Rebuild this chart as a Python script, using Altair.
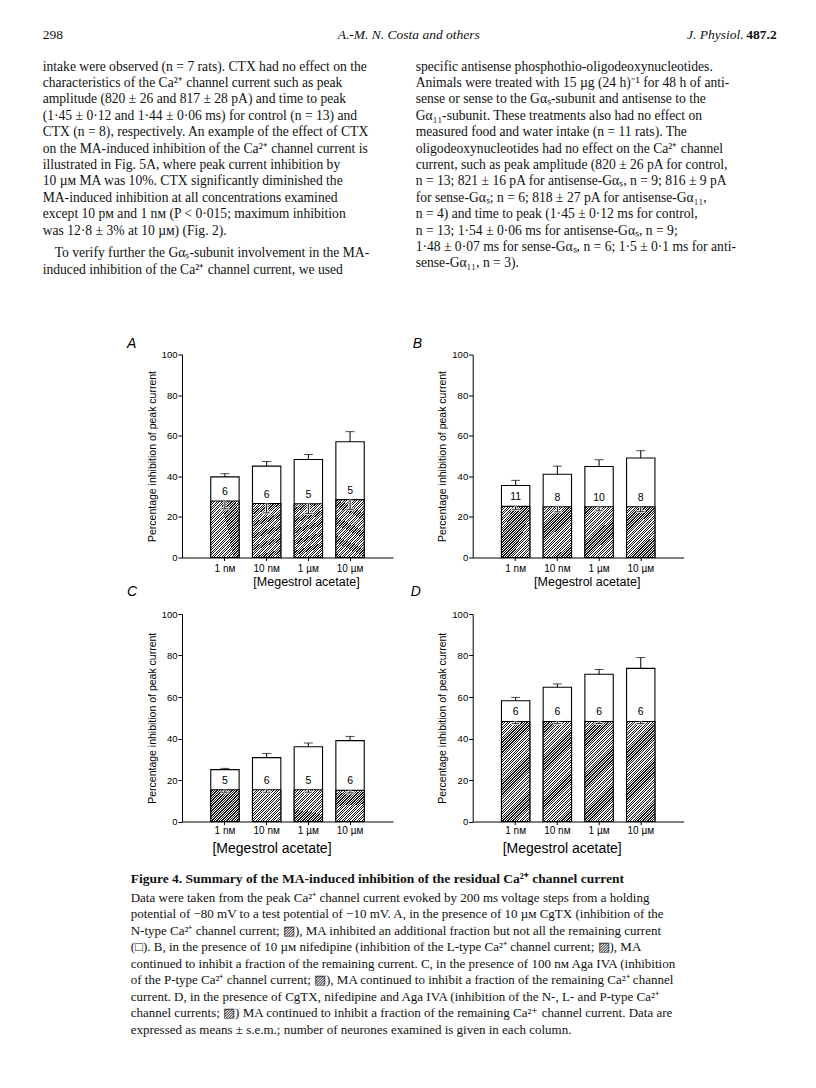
import math
import altair as alt
import pandas as pd

# ---------------- data ----------------
CONC = ["1 nᴍ", "10 nᴍ", "1 µᴍ", "10 µᴍ"]
Y_TICKS = [0, 20, 40, 60, 80, 100]

A_TOTAL = [39.7, 45.0, 48.3, 57.0]
A_TOTAL_SEM = [1.6, 2.3, 2.5, 5.0]
A_BASE = [27.8, 26.6, 26.5, 28.5]
A_BASE_SEM = [3.8, 4.6, 4.8, 4.8]
A_N = [6, 6, 5, 5]

B_TOTAL = [35.5, 41.0, 44.8, 49.0]
B_TOTAL_SEM = [2.5, 4.0, 3.3, 3.6]
B_BASE = [25.2, 25.0, 25.0, 25.0]
B_BASE_SEM = [1.5, 2.5, 2.0, 2.3]
B_N = [11, 8, 10, 8]

C_TOTAL = [25.0, 30.8, 36.0, 39.0]
C_TOTAL_SEM = [0.6, 2.0, 1.8, 2.0]
C_BASE = [15.3, 15.3, 15.3, 15.0]
C_BASE_SEM = [1.2, 1.2, 1.2, 1.2]
C_N = [5, 6, 5, 6]

D_TOTAL = [58.2, 64.7, 71.0, 73.8]
D_TOTAL_SEM = [1.6, 1.6, 2.2, 5.2]
D_BASE = [48.2, 48.2, 48.2, 48.2]
D_BASE_SEM = [1.0, 1.0, 1.0, 1.0]
D_N = [6, 6, 6, 6]

HEADER_LEFT = "298"
HEADER_CENTER = "A.-M. N. Costa and others"
HEADER_JOURNAL = "J. Physiol."
HEADER_VOLUME = "487.2"

LEFT_COL = [
    "intake were observed (n = 7 rats). CTX had no effect on the",
    "characteristics of the Ca²⁺ channel current such as peak",
    "amplitude (820 ± 26 and 817 ± 28 pA) and time to peak",
    "(1·45 ± 0·12 and 1·44 ± 0·06 ms) for control (n = 13) and",
    "CTX (n = 8), respectively. An example of the effect of CTX",
    "on the MA-induced inhibition of the Ca²⁺ channel current is",
    "illustrated in Fig. 5A, where peak current inhibition by",
    "10 µᴍ MA was 10%. CTX significantly diminished the",
    "MA-induced inhibition at all concentrations examined",
    "except 10 pᴍ and 1 nᴍ (P < 0·015; maximum inhibition",
    "was 12·8 ± 3% at 10 µᴍ) (Fig. 2).",
    "To verify further the Gαₛ-subunit involvement in the MA-",
    "induced inhibition of the Ca²⁺ channel current, we used",
]
RIGHT_COL = [
    "specific antisense phosphothio-oligodeoxynucleotides.",
    "Animals were treated with 15 µg (24 h)⁻¹ for 48 h of anti-",
    "sense or sense to the Gαₛ-subunit and antisense to the",
    "Gα₁₁-subunit. These treatments also had no effect on",
    "measured food and water intake (n = 11 rats). The",
    "oligodeoxynucleotides had no effect on the Ca²⁺ channel",
    "current, such as peak amplitude (820 ± 26 pA for control,",
    "n = 13; 821 ± 16 pA for antisense-Gαₛ, n = 9; 816 ± 9 pA",
    "for sense-Gαₛ; n = 6; 818 ± 27 pA for antisense-Gα₁₁,",
    "n = 4) and time to peak (1·45 ± 0·12 ms for control,",
    "n = 13; 1·54 ± 0·06 ms for antisense-Gαₛ, n = 9;",
    "1·48 ± 0·07 ms for sense-Gαₛ, n = 6; 1·5 ± 0·1 ms for anti-",
    "sense-Gα₁₁, n = 3).",
]
CAPTION_TITLE = "Figure 4. Summary of the MA-induced inhibition of the residual Ca²⁺ channel current"
CAPTION_LINES = [
    "Data were taken from the peak Ca²⁺ channel current evoked by 200 ms voltage steps from a holding",
    "potential of −80 mV to a test potential of −10 mV. A, in the presence of 10 µᴍ CgTX (inhibition of the",
    "N-type Ca²⁺ channel current; ▨), MA inhibited an additional fraction but not all the remaining current",
    "(□). B, in the presence of 10 µᴍ nifedipine (inhibition of the L-type Ca²⁺ channel current; ▨), MA",
    "continued to inhibit a fraction of the remaining current. C, in the presence of 100 nᴍ Aga IVA (inhibition",
    "of the P-type Ca²⁺ channel current; ▨), MA continued to inhibit a fraction of the remaining Ca²⁺ channel",
    "current. D, in the presence of CgTX, nifedipine and Aga IVA (inhibition of the N-, L- and P-type Ca²⁺",
    "channel currents; ▨) MA continued to inhibit a fraction of the remaining Ca²⁺ channel current. Data are",
    "expressed as means ± s.e.m.; number of neurones examined is given in each column.",
]

# ---------------- styling / layout ----------------
SANS = "Liberation Sans, Arial, Helvetica, sans-serif"
SERIF = "Liberation Serif, Times New Roman, serif"
PANEL_W = 211
ROW1_H = 203
ROW2_H = 207.5
ROW_GAP = 56.5
COL_GAP = 79.7
BAR_W = PANEL_W / (4 - 0.32 + 2 * 0.69) * (1 - 0.32)


def hatch(w, h, period=1.75, frac=0.52, dark="#1a1a1a"):
    k = (w + h) / (w * w + h * h)
    n = max(1, int(round((w + h) / (math.sqrt(2) * period))))
    stops = []
    for i in range(n):
        a, m, b = i / n, (i + frac) / n, (i + 1) / n
        stops += [
            alt.GradientStop(offset=a, color="white"),
            alt.GradientStop(offset=m, color="white"),
            alt.GradientStop(offset=m, color=dark),
            alt.GradientStop(offset=b, color=dark),
        ]
    return alt.LinearGradient(gradient="linear", stops=stops, x1=0, y1=0, x2=k * w, y2=k * h)


def panel(letter, total, total_sem, base, base_sem, n, height, title_x,
          xtitle_size, xlabel_pad, xtitle_pad, letter_dx, letter_dy):
    df = pd.DataFrame({
        "conc": CONC,
        "total": total,
        "top": [t + e for t, e in zip(total, total_sem)],
        "base": base,
        "low": [b - e for b, e in zip(base, base_sem)],
        "n": [str(v) for v in n],
    })
    xaxis = alt.Axis(
        title="[Megestrol acetate]", labelAngle=0, grid=False,
        domainColor="black", domainWidth=1, tickColor="black", tickSize=3, tickWidth=1,
        labelFont=SANS, labelFontSize=10, labelColor="black", labelPadding=xlabel_pad,
        titleFont=SANS, titleFontSize=xtitle_size, titleFontWeight="normal",
        titleColor="black", titlePadding=xtitle_pad, titleX=title_x, titleAlign="center",
    )
    yaxis = alt.Axis(
        title="Percentage inhibition of peak current", values=Y_TICKS, grid=False,
        domainColor="black", domainWidth=1, tickColor="black", tickSize=4, tickWidth=1,
        labelFont=SANS, labelFontSize=9.5, labelColor="black", labelPadding=1,
        titleFont=SANS, titleFontSize=10.5, titleFontWeight="normal",
        titleColor="black", titlePadding=4,
    )
    ysc = alt.Scale(domain=[0, 100], nice=False)
    xenc = alt.X("conc:N", sort=CONC, axis=xaxis,
                 scale=alt.Scale(paddingInner=0.32, paddingOuter=0.69))

    def Y(field):
        return alt.Y(f"{field}:Q", scale=ysc, axis=yaxis)

    b = alt.Chart(df).encode(x=xenc)
    h_px = sum(base) / len(base) * height / 100.0
    white = b.mark_bar(fill="white", stroke="black", strokeWidth=1.1).encode(y=Y("total"))
    hatched = b.mark_bar(fill=hatch(BAR_W, h_px), stroke="black", strokeWidth=1.1).encode(y=Y("base"))
    halo = b.mark_rule(color="white", strokeWidth=3).encode(y=Y("low"), y2="base")
    halo_cap = b.mark_tick(color="white", thickness=3, size=9).encode(y=Y("low"))
    berr = b.mark_rule(color="black", strokeWidth=1).encode(y=Y("low"), y2="base")
    berr_cap = b.mark_tick(color="black", thickness=1, size=7).encode(y=Y("low"))
    terr = b.mark_rule(color="black", strokeWidth=1).encode(y=Y("total"), y2="top")
    terr_cap = b.mark_tick(color="black", thickness=1, size=9).encode(y=Y("top"))
    labels = b.mark_text(dy=-9, font=SANS, fontSize=10.5, color="black").encode(y=Y("base"), text="n:N")
    tag = alt.Chart(pd.DataFrame({"letter": [letter]})).mark_text(
        align="left", baseline="middle", font=SANS, fontSize=14, fontStyle="italic", color="black"
    ).encode(text="letter:N", x=alt.value(letter_dx), y=alt.value(letter_dy))
    return alt.layer(white, hatched, halo, halo_cap, berr, berr_cap, terr, terr_cap, labels, tag).properties(
        width=PANEL_W, height=height)


pA = panel("A", A_TOTAL, A_TOTAL_SEM, A_BASE, A_BASE_SEM, A_N, ROW1_H, 124, 12.5, 3, 1.5, -55, -11)
pB = panel("B", B_TOTAL, B_TOTAL_SEM, B_BASE, B_BASE_SEM, B_N, ROW1_H, 114, 12.5, 3, 1.5, -60, -11)
pC = panel("C", C_TOTAL, C_TOTAL_SEM, C_BASE, C_BASE_SEM, C_N, ROW2_H, 89.5, 14, 1, 6, -55, -22.5)
pD = panel("D", D_TOTAL, D_TOTAL_SEM, D_BASE, D_BASE_SEM, D_N, ROW2_H, 89, 14, 1, 6, -62, -22.5)

# ---------------- page text ----------------
TEXT_H, LINE = 277.5, 16.4
LEFT_X = -139.3       # left text column, relative to panel A's plot edge
RIGHT_X = -57         # right text column, relative to panel B's plot edge
INDENT = 12
r0 = -46.5 / LINE
r1 = r0 + TEXT_H / LINE
HEADER_ROW = -31.5 / LINE
ys_text = alt.Scale(domain=[r0, r1], reverse=True, nice=False, zero=False)


def text_layer(df, align, **kw):
    return alt.Chart(df).mark_text(align=align, baseline="middle", font=SERIF, color="#111", **kw).encode(
        x=alt.X("px:Q", scale=None, axis=None),
        y=alt.Y("row:Q", scale=ys_text, axis=None),
        text="text:N",
    )


left_df = pd.DataFrame({
    "text": LEFT_COL,
    "px": [LEFT_X + (INDENT if i == 11 else 0) for i in range(len(LEFT_COL))],
    "row": [i + (0.39 if i >= 11 else 0) for i in range(len(LEFT_COL))],
})
right_df = pd.DataFrame({
    "text": RIGHT_COL,
    "px": [RIGHT_X] * len(RIGHT_COL),
    "row": list(range(len(RIGHT_COL))),
})

text_left = alt.layer(
    text_layer(left_df, "left", fontSize=13.6),
    text_layer(pd.DataFrame({"text": [HEADER_LEFT], "px": [LEFT_X], "row": [HEADER_ROW]}), "left", fontSize=13.5),
).properties(width=PANEL_W, height=TEXT_H)

text_right = alt.layer(
    text_layer(right_df, "left", fontSize=13.6),
    text_layer(pd.DataFrame({"text": [HEADER_CENTER], "px": [-64], "row": [HEADER_ROW]}), "center",
               fontSize=13.5, fontStyle="italic"),
    text_layer(pd.DataFrame({"text": [HEADER_JOURNAL], "px": [271], "row": [HEADER_ROW]}), "right",
               fontSize=13.5, fontStyle="italic"),
    text_layer(pd.DataFrame({"text": [HEADER_VOLUME], "px": [304], "row": [HEADER_ROW]}), "right",
               fontSize=13.5, fontWeight="bold"),
).properties(width=PANEL_W, height=TEXT_H)

CAP_H, CAP_LINE = 164.5, 16.5
CAP_X = -51.3
cys = alt.Scale(domain=[-0.03, -0.03 + CAP_H / CAP_LINE], reverse=True, nice=False, zero=False)
cap_title_df = pd.DataFrame({"text": [CAPTION_TITLE], "row": [0]})
cap_df = pd.DataFrame({"text": CAPTION_LINES, "row": [1.15 + k for k in range(len(CAPTION_LINES))]})
cap_title = alt.Chart(cap_title_df).mark_text(align="left", baseline="middle", font=SERIF, fontSize=13.5,
                                              fontWeight="bold", color="#111").encode(
    x=alt.value(CAP_X), y=alt.Y("row:Q", scale=cys, axis=None), text="text:N")
cap_body = alt.Chart(cap_df).mark_text(align="left", baseline="middle", font=SERIF, fontSize=13,
                                       color="#111").encode(
    x=alt.value(CAP_X), y=alt.Y("row:Q", scale=cys, axis=None), text="text:N")
caption = alt.layer(cap_title, cap_body).properties(width=PANEL_W, height=CAP_H)
cap_blank = alt.Chart(pd.DataFrame({"v": [0]})).mark_point(opacity=0).properties(width=PANEL_W, height=CAP_H)

chart = alt.concat(
    text_left, text_right, pA, pB, pC, pD, caption, cap_blank,
    columns=2, spacing={"row": ROW_GAP, "column": COL_GAP}, bounds="flush", align="each",
).properties(
    padding={"left": 34, "top": 12, "right": 0, "bottom": 0}
).configure_view(stroke=None)

chart.save("out.html", embed_options={"renderer": "svg", "actions": False})
